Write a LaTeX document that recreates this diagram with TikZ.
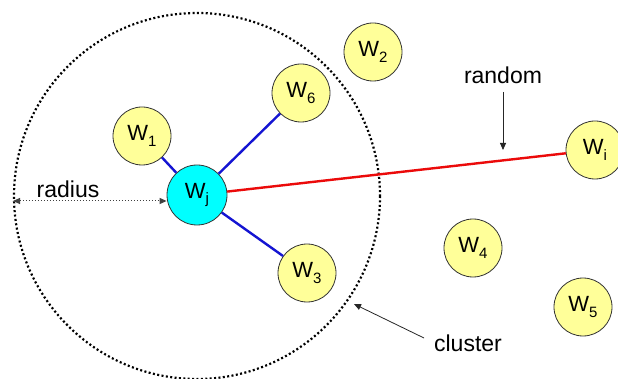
\documentclass[tikz,border=0pt]{standalone}
\usepackage{fontspec}
\setmainfont{Liberation Sans}
\usetikzlibrary{arrows.meta}
\definecolor{wyellow}{RGB}{255,255,153}
\definecolor{wcyan}{RGB}{0,255,255}
\definecolor{wblue}{RGB}{20,20,210}
\definecolor{wred}{RGB}{235,10,10}
\tikzset{
  wnode/.style={circle, draw=black!80, line width=0.8pt, fill=wyellow, minimum size=58pt, inner sep=0pt, font=\fontsize{22}{22}\selectfont},
  wcenter/.style={wnode, fill=wcyan, minimum size=60pt},
  lbl/.style={font=\fontsize{23}{23}\selectfont, inner sep=0pt},
  blueedge/.style={draw=wblue, line width=2.4pt},
  rededge/.style={draw=wred, line width=2.4pt},
  pointer/.style={draw=black!85, line width=0.8pt, -{Triangle[length=7pt,width=6pt]}},
  clusterring/.style={draw=black, line width=2.2pt, dash pattern=on 2pt off 2.4pt},
}
\newcommand{\wsub}[1]{W\raisebox{-0.45ex}{\fontsize{15}{15}\selectfont #1}}
\begin{document}
\begin{tikzpicture}[x=1pt,y=-1pt]
\useasboundingbox (0,0) rectangle (618,379);
\fill[white] (0,0) rectangle (618,379);
% cluster ring
\draw[clusterring] (197,196) circle[radius=183];
% nodes
\node[wcenter] (wj) at (197,195) {\wsub{j}};
\node[wnode] (w1) at (142,136) {\wsub{1}};
\node[wnode] (w6) at (301,93) {\wsub{6}};
\node[wnode] (w2) at (373,52) {\wsub{2}};
\node[wnode] (w3) at (307,273) {\wsub{3}};
\node[wnode] (w4) at (473,248) {\wsub{4}};
\node[wnode] (w5) at (583,307) {\wsub{5}};
\node[wnode] (wi) at (595,150) {\wsub{i}};
% edges
\draw[blueedge] (wj) -- (w1);
\draw[blueedge] (wj) -- (w6);
\draw[blueedge] (wj) -- (w3);
\draw[rededge] (wj) -- (wi);
% labels
\node[lbl] (random) at (503,75) {random};
\node[lbl] (radius) at (68,189) {radius};
\node[lbl] (cluster) at (468,343) {cluster};
% pointers
\coordinate (randtip) at (503,150);
\draw[pointer] (random.south |- 0,92) -- (randtip);
\coordinate (clustail) at (424,338);
\coordinate (clustip) at (354,304);
\draw[pointer] (clustail) -- (clustip);
\coordinate (radleft) at (13,201);
\draw[draw=black!75, line width=1pt, dotted, {Triangle[length=7pt,width=6pt]}-{Triangle[length=7pt,width=6pt]}] (radleft) -- (wj.west |- 0,201);
\end{tikzpicture}
\end{document}
